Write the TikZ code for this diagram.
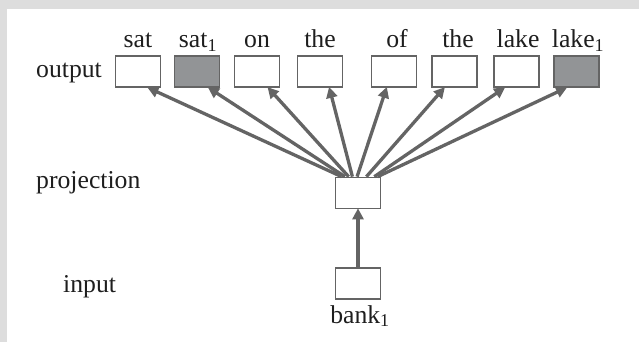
\documentclass[tikz,border=0pt]{standalone}
\usepackage{fontspec}
\setmainfont{Liberation Serif}
\usetikzlibrary{arrows.meta,calc}
\definecolor{framegray}{RGB}{221,221,221}
\definecolor{linegray}{RGB}{100,100,100}
\definecolor{boxfill}{RGB}{146,148,150}
\definecolor{txt}{RGB}{30,30,30}
\tikzset{
  unit/.style={draw=linegray, line width=1.7pt, minimum width=45pt, minimum height=31pt, inner sep=0pt, fill=white},
  hidden/.style={unit, fill=boxfill},
  lbl/.style={inner sep=0pt, text=txt, font=\fontsize{25.7}{30}\selectfont},
  conn/.style={draw=linegray, line width=3.3pt, -{Triangle[length=11pt,width=11pt]}, shorten >=-1pt},
}
\begin{document}
\begin{tikzpicture}[x=1pt,y=-1pt]
\useasboundingbox (0,0) rectangle (639,342);
\fill[framegray] (0,0) rectangle (639,342);
\fill[white] (7,9) rectangle (639,342);

% output boxes
\node[unit]   (o1) at (138,71.5) {};
\node[hidden] (o2) at (197,71.5) {};
\node[unit]   (o3) at (257,71.5) {};
\node[unit]   (o4) at (320,71.5) {};
\node[unit]   (o5) at (394,71.5) {};
\node[unit]   (o6) at (454.5,71.5) {};
\node[unit]   (o7) at (516.5,71.5) {};
\node[hidden] (o8) at (576.5,71.5) {};

% word labels
\node[lbl, anchor=base] (w1) at (138,48) {sat};
\node[lbl, anchor=base] (w2) at (198,48) {sat\textsubscript{1}};
\node[lbl, anchor=base] (w3) at (257,48) {on};
\node[lbl, anchor=base] (w4) at (320,48) {the};
\node[lbl, anchor=base] (w5) at (397,48) {of};
\node[lbl, anchor=base] (w6) at (458,48) {the};
\node[lbl, anchor=base] (w7) at (518,48) {lake};
\node[lbl, anchor=base] (w8) at (578,48) {lake\textsubscript{1}};

% layer labels
\node[lbl, anchor=base west] (lo) at (36,78) {output};
\node[lbl, anchor=base west] (lp) at (36,188) {projection};
\node[lbl, anchor=base west] (li) at (63,292) {input};

% projection and input
\node[unit] (proj) at (358,193) {};
\node[unit] (inp) at (358,283.5) {};
\node[lbl, anchor=base] (bank) at (360,323) {bank\textsubscript{1}};

% connectors
\foreach \i/\s/\t in {1/0.15/0.72, 2/0.22/0.75, 3/0.30/0.74, 4/0.38/0.70, 5/0.48/0.34, 6/0.68/0.28, 7/0.85/0.24, 8/0.92/0.28} {
  \draw[conn] ($(proj.north west)!\s!(proj.north east)$) -- ($(o\i.south west)!\t!(o\i.south east)$);
}
\draw[conn] (inp.north) -- (proj.south);
\end{tikzpicture}
\end{document}
